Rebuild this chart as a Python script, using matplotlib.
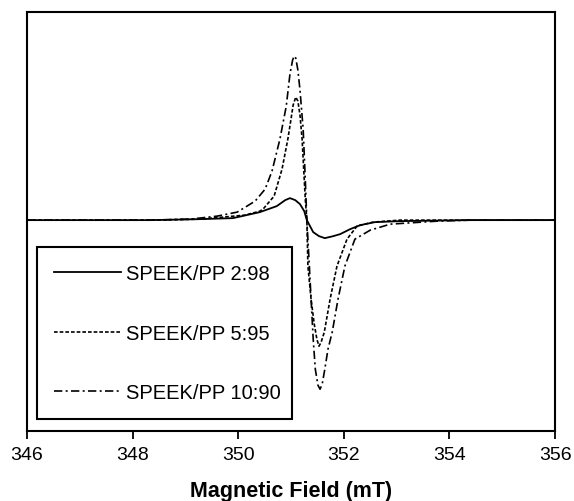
import matplotlib
matplotlib.use("Agg")
import matplotlib.pyplot as plt

plt.rcParams["font.family"] = ["Liberation Sans", "DejaVu Sans"]

# field (mT) and intensity (a.u.)
field_2 = [346.0, 348.33, 349.28, 349.90, 350.41, 350.73, 350.89, 350.98, 351.08,
           351.17, 351.25, 351.30, 351.42, 351.53, 351.64, 351.80, 351.93, 352.12,
           352.31, 352.59, 353.06, 354.39, 356.0]
signal_2 = [0, 0, 1, 2, 8, 14, 20, 22, 20, 16, 9, 0, -12, -16, -18, -16, -14, -9,
            -5, -2, -1, 0, 0]

field_5 = [346.0, 348.33, 349.28, 350.13, 350.41, 350.47, 350.68, 350.83, 350.94,
           351.00, 351.04, 351.09, 351.13, 351.17, 351.21, 351.27, 351.30, 351.32,
           351.38, 351.44, 351.49, 351.53, 351.57, 351.63, 351.68, 351.74, 351.87,
           352.06, 352.25, 352.55, 353.06, 354.39, 356.0]
signal_5 = [0, 0, 1, 5, 9, 11, 24, 51, 81, 101, 115, 123, 119, 105, 81, 21, 0, -46,
            -79, -104, -119, -126, -122, -112, -97, -79, -46, -19, -6, -2, 0, 0, 0]

field_10 = [346.0, 348.33, 349.09, 349.60, 349.98, 350.32, 350.51, 350.64, 350.79,
            350.91, 350.98, 351.03, 351.06, 351.09, 351.13, 351.17, 351.23, 351.27,
            351.30, 351.34, 351.38, 351.42, 351.46, 351.51, 351.55, 351.59, 351.64,
            351.70, 351.78, 351.89, 352.02, 352.21, 352.50, 352.88, 353.77, 354.39,
            356.0]
signal_10 = [0, 0, 1, 4, 8, 19, 31, 49, 81, 114, 146, 160, 164, 162, 150, 130, 91,
             41, 0, -39, -79, -119, -149, -165, -169, -164, -149, -129, -112, -79,
             -46, -19, -10, -4, -1, 0, 0]

labels = ["SPEEK/PP 2:98", "SPEEK/PP 5:95", "SPEEK/PP 10:90"]
x_ticks = [346, 348, 350, 352, 354, 356]

fig = plt.figure(figsize=(5.74, 5.02), dpi=100)
ax = fig.add_axes([0.047, 0.139, 0.920, 0.835])

ax.plot(field_2, signal_2, color="black", lw=1.3, ls="-", label=labels[0])
ax.plot(field_5, signal_5, color="black", lw=1.2, ls=(0, (2.2, 1.2)), label=labels[1])
ax.plot(field_10, signal_10, color="black", lw=1.2, ls=(0, (5, 2, 1.2, 2)), label=labels[2])

ax.set_xlim(346, 356)
ax.set_ylim(-211, 208)
ax.set_xticks(x_ticks)
ax.set_yticks([])
ax.tick_params(axis="x", direction="out", length=6, width=1.3, labelsize=14, pad=5)
for s in ax.spines.values():
  s.set_linewidth(1.5)

ax.set_xlabel("Magnetic Field (mT)", fontsize=15.5, fontweight="bold", labelpad=12)

leg = ax.legend(loc="lower left", bbox_to_anchor=(0.019, 0.029, 0.483, 0.417),
                mode="expand", borderaxespad=0, fontsize=14.5, handlelength=3.3,
                handletextpad=0.25, labelspacing=2.0, borderpad=0.85, fancybox=False,
                edgecolor="black", framealpha=1)
leg.get_frame().set_linewidth(1.5)

fig.savefig("out.png", dpi=100)
